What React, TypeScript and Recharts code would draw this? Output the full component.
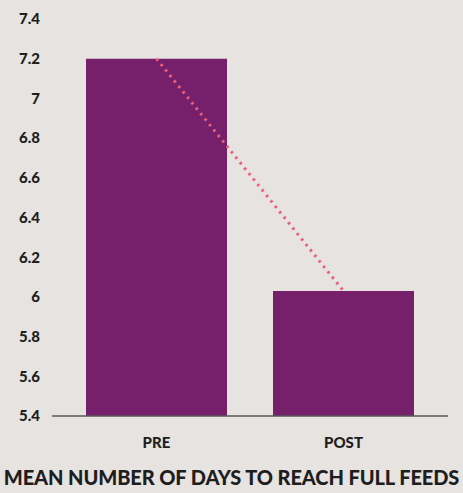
import React from "react";
import { ComposedChart, Bar, Line, XAxis, YAxis } from "recharts";

const categories = ["PRE", "POST"];
const meanDays = [7.2, 6.03];
const yTicks = [5.4, 5.6, 5.8, 6, 6.2, 6.4, 6.6, 6.8, 7, 7.2, 7.4];

const data = categories.map((name, i) => ({ name, value: meanDays[i] }));

const FONT = "Lato, 'Open Sans', sans-serif";

export default function App() {
  return (
    <div
      style={{
        position: "absolute",
        top: 0,
        left: 0,
        width: 463,
        height: 493,
        background: "#e6e3e1",
        fontFamily: FONT,
      }}
    >
      <ComposedChart
        width={463}
        height={493}
        data={data}
        margin={{ top: 19, right: 15, bottom: 37, left: 0 }}
        barCategoryGap={23}
      >
        <XAxis
          dataKey="name"
          padding={{ left: 11, right: 11 }}
          axisLine={{ stroke: "#5a5a5a", strokeWidth: 1.5 }}
          tickLine={false}
          tickMargin={15}
          height={40}
          tick={{ fill: "#1e1e1e", fontSize: 15, fontWeight: 900, fontFamily: FONT }}
        />
        <YAxis
          domain={[5.4, 7.4]}
          ticks={yTicks}
          interval={0}
          width={52}
          axisLine={false}
          tickLine={false}
          tickSize={0}
          tickMargin={12}
          tick={{ fill: "#1e1e1e", fontSize: 15, fontWeight: 900, fontFamily: FONT }}
          tickFormatter={(v: number) => String(Math.round(v * 10) / 10)}
        />
        <Bar dataKey="value" fill="#76206b" isAnimationActive={false} />
        <Line
          dataKey="value"
          type="linear"
          stroke="#ec5f7c"
          strokeWidth={3}
          strokeDasharray="2.5 4.5"
          dot={false}
          activeDot={false}
          isAnimationActive={false}
        />
      </ComposedChart>
      <div
        style={{
          position: "absolute",
          top: 465,
          left: 0,
          width: 463,
          textAlign: "center",
          fontSize: 20,
          fontWeight: 900,
          color: "#1e1e1e",
          letterSpacing: -0.1,
          whiteSpace: "nowrap",
        }}
      >
        MEAN NUMBER OF DAYS TO REACH FULL FEEDS
      </div>
    </div>
  );
}
